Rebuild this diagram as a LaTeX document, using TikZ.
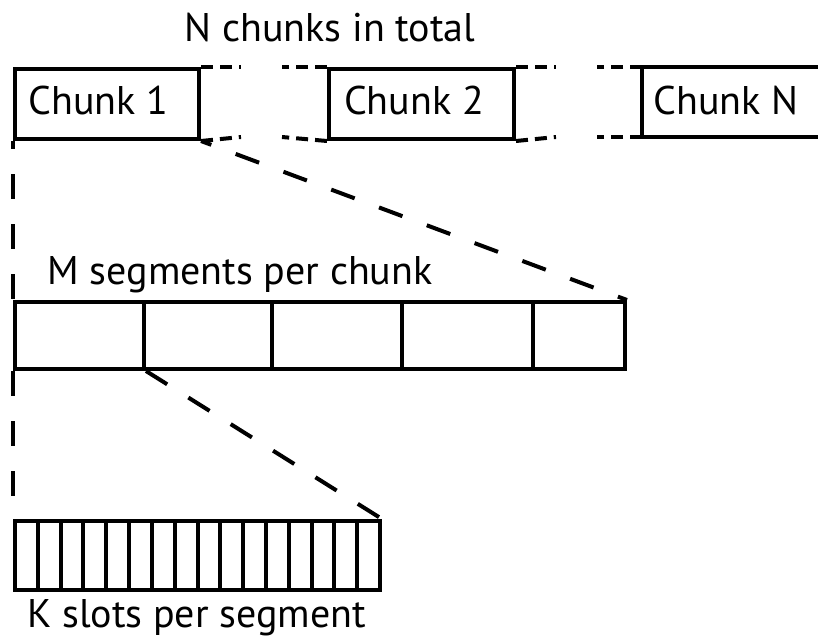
\documentclass[tikz,border=0pt]{standalone}
\usepackage{fontspec}
\setmainfont{PT Sans}
\begin{document}
\begin{tikzpicture}[x=1pt,y=-1pt,
  line width=4pt,
  box/.style={draw,rectangle,inner sep=0pt,anchor=north west},
  lbl/.style={inner sep=0pt,anchor=base,font=\fontsize{40}{48}\selectfont},
  sdash/.style={dash pattern=on 12pt off 7pt},
  ldash/.style={dash pattern=on 25pt off 25pt}]
\useasboundingbox (0,0) rectangle (818,637);
% top row
\node[lbl] (title) at (330,41) {N chunks in total};
\node[box,minimum width=184pt,minimum height=70pt] (c1) at (13,67) {};
\node[box,minimum width=185pt,minimum height=70pt] (c2) at (327,67) {};
\coordinate (cNtl) at (642,67);
\coordinate (cNbl) at (642,137);
\coordinate (cNtr) at (822,67);
\coordinate (cNbr) at (822,137);
\draw (cNtr) -- (cNtl) -- (cNbl) -- (cNbr);
\node[lbl] (t1) at (98.5,114) {Chunk 1};
\node[lbl] (t2) at (414,114) {Chunk 2};
\node[lbl] (tN) at (726,114) {Chunk N};
% dashed continuations
\coordinate (d1a) at (241,67);
\coordinate (d1b) at (241,137);
\coordinate (d2a) at (282,67);
\coordinate (d2b) at (282,137);
\coordinate (d3a) at (556,67);
\coordinate (d3b) at (556,137);
\coordinate (d4a) at (597,67);
\coordinate (d4b) at (597,137);
\draw[sdash] (c1.north east) -- (d1a);
\draw[sdash] (c1.south east) -- (d1b);
\draw[sdash] (c2.north west) -- (d2a);
\draw[sdash] (c2.south west) -- (d2b);
\draw[sdash] (c2.north east) -- (d3a);
\draw[sdash] (c2.south east) -- (d3b);
\draw[sdash] (cNtl) -- (d4a);
\draw[sdash] (cNbl) -- (d4b);
% segments
\node[lbl] (mlab) at (240,284) {M segments per chunk};
\node[box,minimum width=129pt,minimum height=67pt] (g1) at (13,300) {};
\node[box,minimum width=128pt,minimum height=67pt] (g2) at (142,300) {};
\node[box,minimum width=130pt,minimum height=67pt] (g3) at (270,300) {};
\node[box,minimum width=131pt,minimum height=67pt] (g4) at (400,300) {};
\node[box,minimum width=92pt,minimum height=67pt] (g5) at (531,300) {};
% slots
\foreach \i in {1,...,16}{
  \node[box,minimum width=22.8125pt,minimum height=69pt] (s\i) at ({13+(\i-1)*22.8125},519) {};
}
\node[lbl] (klab) at (196.5,627) {K slots per segment};
% zoom connectors
\draw[ldash,dash phase=17pt] (c1.south west) -- (g1.north west);
\draw[dash pattern=on 25pt off 26pt,dash phase=14pt] (c1.south east) -- (g5.north east);
\draw[ldash] (g1.south west) -- (s1.north west);
\draw[ldash] (g1.south east) -- (s16.north east);
\end{tikzpicture}
\end{document}
